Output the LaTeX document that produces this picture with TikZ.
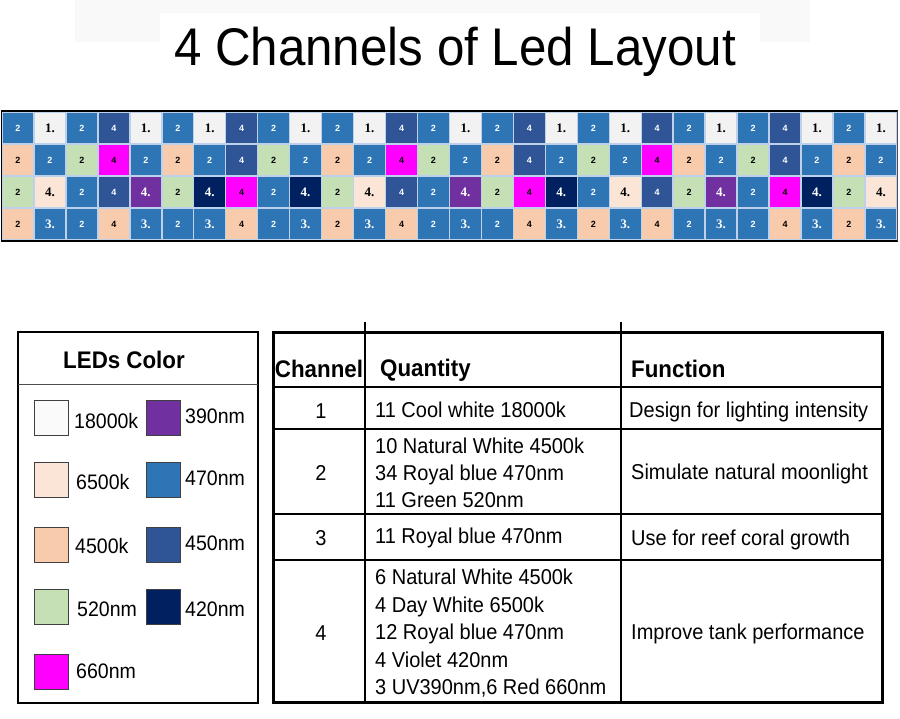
\documentclass[tikz,border=0pt]{standalone}
\usepackage{fontspec}
\setmainfont{Liberation Sans}[FakeStretch=0.93]
\newfontfamily\gridserif{Liberation Serif}
\newfontfamily\gridsans{Liberation Sans}
\definecolor{cblue}{HTML}{2E75B6}
\definecolor{cwhite}{HTML}{F2F2F2}
\definecolor{cdark}{HTML}{2F5597}
\definecolor{cpeach}{HTML}{F8CBAD}
\definecolor{cgreen}{HTML}{C5E0B4}
\definecolor{cmag}{HTML}{FF00FF}
\definecolor{clpeach}{HTML}{FBE5D6}
\definecolor{cpurple}{HTML}{7030A0}
\definecolor{cnavy}{HTML}{002060}
\definecolor{cellline}{HTML}{BDD2EA}
\definecolor{swline}{HTML}{404040}
\definecolor{band}{HTML}{F9F9F9}
\begin{document}
\begin{tikzpicture}[x=1pt,y=-1pt,
  cell/.style={rectangle, minimum width=31.96pt, minimum height=32pt, inner sep=0pt,
    draw=cellline, line width=1.4pt, font=\gridsans\bfseries\fontsize{9}{9}\selectfont},
  ser/.style={font=\gridserif\bfseries\fontsize{13}{13}\selectfont},
  kb/.style={fill=cblue,text=white,execute at begin node={2}},
  kw/.style={fill=cwhite,text=black,ser,execute at begin node={1.}},
  kd/.style={fill=cdark,text=white,execute at begin node={4}},
  kp/.style={fill=cpeach,text=black,execute at begin node={2}},
  kg/.style={fill=cgreen,text=black,execute at begin node={2}},
  km/.style={fill=cmag,text=black,execute at begin node={4}},
  kP/.style={fill=cpurple,text=white,ser,execute at begin node={4.}},
  kn/.style={fill=cnavy,text=white,ser,execute at begin node={4.}},
  kl/.style={fill=clpeach,text=black,ser,execute at begin node={4.}},
  kB/.style={fill=cblue,text=white,ser,execute at begin node={3.}},
  kq/.style={fill=cpeach,text=black,execute at begin node={4}},
  swatch/.style={rectangle, minimum width=34pt, minimum height=35pt, inner sep=0pt, draw=swline, line width=1pt},
  leglab/.style={anchor=base west, inner sep=0pt, font=\fontsize{21}{25}\selectfont},
  head/.style={anchor=base west, inner sep=0pt, font=\bfseries\fontsize{24}{28}\selectfont},
  body/.style={anchor=base west, inner sep=0pt, font=\fontsize{21.5}{27}\selectfont},
  chan/.style={anchor=base, inner sep=0pt, font=\fontsize{21.5}{27}\selectfont},
  thick3/.style={line width=3pt},
  thin1/.style={line width=1.2pt}
]
\useasboundingbox (0,0) rectangle (900,718);
% title band
\fill[band] (75,0) rectangle (810,42);
\fill[white] (160,13) rectangle (760,50);
\node[anchor=base, inner sep=0pt, font=\fontsize{53}{60}\selectfont] (title) at (455,65) {4 Channels of Led Layout};

% LED grid
\foreach \s [count=\i] in {b,w,b,d,w,b,w,d,b,w,b,w,d,b,w,b,d,w,b,w,d,b,w,b,d,w,b,w}
  \node[cell,k\s] (ra\i) at ({2+(\i-0.5)*31.96},128) {};
\foreach \s [count=\i] in {p,b,g,m,b,p,b,d,g,b,p,b,m,g,b,p,d,b,g,b,m,p,b,g,d,b,p,b}
  \node[cell,k\s] (rb\i) at ({2+(\i-0.5)*31.96},160) {};
\foreach \s [count=\i] in {g,l,b,d,P,g,n,m,b,n,g,l,d,b,P,g,m,n,b,l,d,g,P,b,m,n,g,l}
  \node[cell,k\s] (rc\i) at ({2+(\i-0.5)*31.96},192) {};
\foreach \s [count=\i] in {p,B,b,q,B,b,B,q,b,B,p,B,q,b,B,b,q,B,p,B,q,b,B,b,q,B,p,B}
  \node[cell,k\s] (rd\i) at ({2+(\i-0.5)*31.96},224) {};
\draw[line width=2pt] (ra1.north west) -- (ra28.north east);
\draw[line width=2pt] (rd1.south west) -- (rd28.south east);
\draw[line width=1.5pt] (ra1.north west) -- (rd1.south west);
\draw[line width=1.2pt, black!70] (ra28.north east) -- (rd28.south east);

% Legend
\draw[line width=2.5pt] (18,332) rectangle (258,703);
\draw[line width=1pt, black!70] (18,384) -- (258,384);
\node[anchor=base, inner sep=0pt, font=\bfseries\fontsize{24}{28}\selectfont] (leghead) at (124,368) {LEDs Color};
\node[swatch, fill=white!98!black] (s1) at (51,417.5) {};
\node[swatch, fill=clpeach] (s2) at (51,479.5) {};
\node[swatch, fill=cpeach] (s3) at (51,544.5) {};
\node[swatch, fill=cgreen] (s4) at (51,606.5) {};
\node[swatch, fill=cmag] (s5) at (51,671.5) {};
\node[swatch, fill=cpurple] (s6) at (163,417.5) {};
\node[swatch, fill=cblue] (s7) at (163,479.5) {};
\node[swatch, fill=cdark] (s8) at (163,544.5) {};
\node[swatch, fill=cnavy] (s9) at (163,606.5) {};
\node[leglab] (l1) at (74,428) {18000k};
\node[leglab] (l2) at (76,489) {6500k};
\node[leglab] (l3) at (75,553) {4500k};
\node[leglab] (l4) at (77,616) {520nm};
\node[leglab] (l5) at (76,678) {660nm};
\node[leglab] (l6) at (185,423) {390nm};
\node[leglab] (l7) at (185,485) {470nm};
\node[leglab] (l8) at (185,550) {450nm};
\node[leglab] (l9) at (185,616) {420nm};

% Table
\draw[thin1] (273,387) -- (882,387);
\draw[thin1] (273,429) -- (882,429);
\draw[thin1] (273,514) -- (882,514);
\draw[thin1] (273,560) -- (882,560);
\draw[thin1] (365,322) -- (365,702);
\draw[thin1] (621,322) -- (621,702);
\draw[thick3] (273,332) rectangle (882,702);

\node[anchor=base, inner sep=0pt, font=\bfseries\fontsize{24}{28}\selectfont] (hc) at (319,377) {Channel};
\node[head] (hq) at (380,376) {Quantity};
\node[head] (hf) at (631,377) {Function};

\node[chan] (c1) at (321,418) {1};
\node[body] (q1) at (375,417) {11 Cool white 18000k};
\node[body] (f1) at (629,417) {Design for lighting intensity};

\node[chan] (c2) at (321,480) {2};
\node[body] (q2a) at (375,453) {10 Natural White 4500k};
\node[body] (q2b) at (375,480) {34 Royal blue 470nm};
\node[body] (q2c) at (375,507) {11 Green 520nm};
\node[body] (f2) at (631,479) {Simulate natural moonlight};

\node[chan] (c3) at (321,545) {3};
\node[body] (q3) at (375,543) {11 Royal blue 470nm};
\node[body] (f3) at (631,545) {Use for reef coral growth};

\node[chan] (c4) at (321,640) {4};
\node[body] (q4a) at (375,584) {6 Natural White 4500k};
\node[body] (q4b) at (375,612) {4 Day White 6500k};
\node[body] (q4c) at (375,639) {12 Royal blue 470nm};
\node[body] (q4d) at (375,667) {4 Violet 420nm};
\node[body] (q4e) at (375,694) {3 UV390nm,6 Red 660nm};
\node[body] (f4) at (631,639) {Improve tank performance};
\end{tikzpicture}
\end{document}
